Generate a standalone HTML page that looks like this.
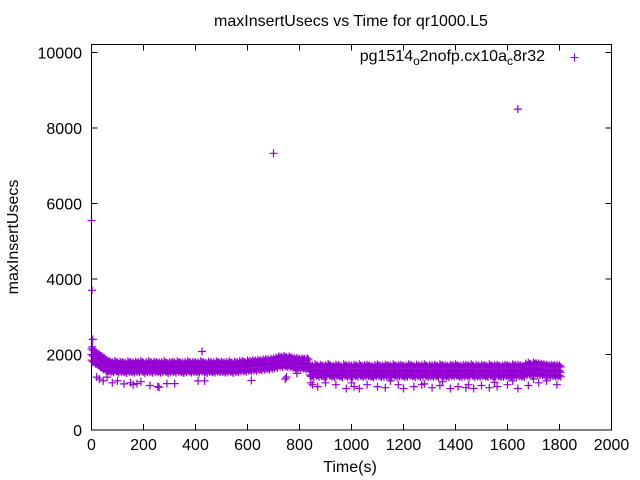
<!DOCTYPE html>
<html><head><meta charset="utf-8"><style>
body{margin:0;background:#fff}
svg{display:block;font-family:"Liberation Sans",sans-serif}
</style></head><body>
<svg id="chart" width="640" height="480" viewBox="0 0 640 480" xmlns="http://www.w3.org/2000/svg">
<rect width="640" height="480" fill="#fff"/>
<text x="351" y="26" text-anchor="middle" font-size="16">maxInsertUsecs vs Time for qr1000.L5</text>
<text x="350" y="472" text-anchor="middle" font-size="16">Time(s)</text>
<text transform="translate(18,237) rotate(-90)" text-anchor="middle" font-size="16">maxInsertUsecs</text>
<g id="ticks"></g>
<g id="marks"></g>
<rect x="91.5" y="44.5" width="520" height="385.5" fill="none" stroke="#000" stroke-width="1"/>
<text x="545" y="61" text-anchor="end" font-size="16">pg1514<tspan dy="4" font-size="12">o</tspan><tspan dy="-4">2nofp.cx10a</tspan><tspan dy="4" font-size="12">c</tspan><tspan dy="-4">8r32</tspan></text>
<path d="M570.5 57.5h8M574.5 53.5v8" stroke="#9400d3" stroke-width="1"/>
</svg>
<script>
const xTicks=[0,200,400,600,800,1000,1200,1400,1600,1800,2000];
const yTicks=[0,2000,4000,6000,8000,10000];
const upper=[2150,2100,2050,2000,1950,1900,
1850,1820,1800,1830,1790,1810,1800,1780,1820,1800,1790,1810,1800,1830,1780,1800,1820,1790,1810,1800,
1790,1800,1820,1780,1800,1810,1790,1820,1800,1780,1800,1820,1790,1810,1800,1790,1820,1800,1780,1810,
1800,1790,1820,1800,1810,1790,1800,1820,1780,1810,1800,1820,1830,1810,1840,1830,1850,1840,1860,1850,
1870,1880,1870,1890,1900,
1920,1950,1940,1960,1930,1950,1920,1900,1910,1890,1900,1880,1900,
1720,1700,1740,1710,1730,1700,1720,1750,1710,1700,1730,1720,1690,1740,1710,1720,1700,1730,1710,1740,
1700,1720,1730,1710,1690,1720,1740,1700,1710,1730,1720,1700,1740,1710,1720,1730,1700,1710,1740,1720,
1700,1730,1710,1720,1740,1700,1720,1710,1730,1700,1740,1720,1710,1700,1730,1720,1740,1710,1700,1720,
1730,1710,1740,1700,1720,1710,1730,1720,1700,1740,1710,1720,1730,1700,1710,1730,1720,1700,1740,1720,
1730,1710,1700,1760,1780,1750,1790,1770,1760,1750,1740,1730,1720,1730,1720,1720,1710];
const middle=[2000,1960,1920,1880,1850,1800,
1720,1700,1690,1710,1680,1700,1690,1670,1700,1690,1680,1700,1690,1710,1670,1690,1700,1680,1700,1690,
1680,1690,1710,1670,1690,1700,1680,1710,1690,1670,1690,1710,1680,1700,1690,1680,1710,1690,1670,1700,
1690,1680,1710,1690,1700,1680,1690,1710,1670,1700,1690,1710,1720,1700,1730,1720,1740,1730,1750,1740,
1760,1770,1760,1780,1790,
1810,1840,1830,1850,1820,1840,1810,1790,1800,1780,1790,1770,1780,
1580,1560,1600,1570,1590,1560,1580,1610,1570,1560,1590,1580,1550,1600,1570,1580,1560,1590,1570,1600,
1560,1580,1590,1570,1550,1580,1600,1560,1570,1590,1580,1560,1600,1570,1580,1590,1560,1570,1600,1580,
1560,1590,1570,1580,1600,1560,1580,1570,1590,1560,1600,1580,1570,1560,1590,1580,1600,1570,1560,1580,
1590,1570,1600,1560,1580,1570,1590,1580,1560,1600,1570,1580,1590,1560,1570,1590,1580,1560,1600,1580,
1590,1570,1560,1620,1640,1610,1650,1630,1620,1610,1600,1590,1580,1590,1580,1580,1570];
const lower=[1850,1800,1760,1700,1650,1620,
1600,1580,1570,1590,1560,1580,1570,1550,1580,1570,1560,1580,1570,1590,1550,1570,1580,1560,1580,1570,
1560,1570,1590,1550,1570,1580,1560,1590,1570,1550,1570,1590,1560,1580,1570,1560,1590,1570,1550,1580,
1570,1560,1590,1570,1580,1560,1570,1590,1550,1580,1570,1590,1600,1580,1610,1600,1620,1610,1630,1620,
1640,1650,1640,1660,1670,
1690,1720,1710,1730,1700,1720,1690,1670,1680,1660,1670,1650,1660,
1460,1440,1480,1450,1470,1440,1460,1490,1450,1440,1470,1460,1430,1480,1450,1460,1440,1470,1450,1480,
1440,1460,1470,1450,1430,1460,1480,1440,1450,1470,1460,1440,1480,1450,1460,1470,1440,1450,1480,1460,
1440,1470,1450,1460,1480,1440,1460,1450,1470,1440,1480,1460,1450,1440,1470,1460,1480,1450,1440,1460,
1470,1450,1480,1440,1460,1450,1470,1460,1440,1480,1450,1460,1470,1440,1450,1470,1460,1440,1480,1460,
1470,1450,1440,1500,1520,1490,1530,1510,1500,1490,1480,1470,1460,1470,1460,1460,1450];
const extraT=[0,2,5,700,1640,3,10,20,30,45,60,80,100,125,150,160,175,190,225,255,260,290,320,410,425,435,615,745,750,790,843,850,870,900,940,980,1010,1030,1060,1100,1130,1180,1200,1240,1270,1310,1340,1380,1410,1440,1470,1500,1530,1560,1600,1640,1680,1720,1750,1790,1000,1150,1280,1350,1450,1550,1620,1700];
const extraV=[5550,3700,2400,7330,8500,2200,1950,1400,1350,1300,1400,1250,1300,1220,1250,1200,1230,1280,1180,1150,1130,1230,1230,1300,2080,1300,1310,1350,1400,1500,1250,1200,1150,1250,1200,1100,1150,1100,1200,1150,1120,1200,1100,1150,1200,1120,1180,1100,1150,1120,1100,1180,1120,1150,1200,1100,1180,1250,1300,1200,1250,1300,1220,1280,1200,1260,1300,1350];
const X=v=>91.5+v*520/2000, Y=v=>430-v*377.5/10000;
const NS="http://www.w3.org/2000/svg";
const tk=document.getElementById('ticks');
xTicks.forEach(t=>{
 const l=document.createElementNS(NS,'path');
 l.setAttribute('d',`M${X(t)} 430v-6M${X(t)} 44.5v6`);
 l.setAttribute('stroke','#000');
 
 
 tk.appendChild(l);
 const s=document.createElementNS(NS,'text');
 s.setAttribute('x',X(t));s.setAttribute('y',450);s.setAttribute('text-anchor','middle');s.setAttribute('font-size','16');
 s.textContent=t;
 
 
 tk.appendChild(s);
});
yTicks.forEach(t=>{
 const l=document.createElementNS(NS,'path');
 l.setAttribute('d',`M91.5 ${Y(t)}h6M611.5 ${Y(t)}h-6`);
 l.setAttribute('stroke','#000');
 
 
 tk.appendChild(l);
 const s=document.createElementNS(NS,'text');
 s.setAttribute('x',82);s.setAttribute('y',Y(t)+6);s.setAttribute('text-anchor','end');s.setAttribute('font-size','16');
 s.textContent=t;
 
 
 tk.appendChild(s);
});
let d='';
const add=(t,v)=>{const x=X(t),y=Y(v);d+=`M${(x-4).toFixed(1)} ${y.toFixed(1)}h8M${x.toFixed(1)} ${(y-4).toFixed(1)}v8`;};
[upper,middle,lower].forEach(arr=>arr.forEach((v,i)=>{add(i*10,v);add(i*10+5,v-40);}));
extraT.forEach((t,i)=>add(t,extraV[i]));
const p=document.createElementNS(NS,'path');
p.setAttribute('d',d);p.setAttribute('stroke','#9400d3');p.setAttribute('stroke-width','1.2');p.setAttribute('fill','none');


document.getElementById('marks').appendChild(p);
</script>
</body></html>
